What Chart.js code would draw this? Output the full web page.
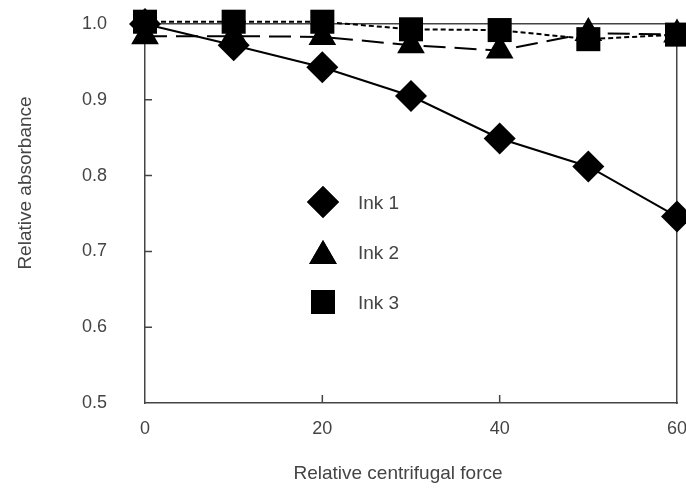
<!DOCTYPE html>
<html><head><meta charset="utf-8">
<script src="https://cdn.jsdelivr.net/npm/chart.js@4/dist/chart.umd.min.js"></script>
<style>html,body{margin:0;padding:0;background:#fff;}#wrap{width:686px;height:489px;}</style>
</head><body><div id="wrap"><canvas id="c" width="686" height="489"></canvas></div>
<script>
const forces = [0, 10, 20, 30, 40, 50, 60];
const ink1 = [1.0, 0.972, 0.943, 0.905, 0.849, 0.812, 0.746];
const ink2 = [0.984, 0.984, 0.983, 0.972, 0.965, 0.988, 0.986];
const ink3 = [1.003, 1.003, 1.003, 0.993, 0.992, 0.98, 0.986];
const seriesNames = ['Ink 1', 'Ink 2', 'Ink 3'];
const xTicks = [0, 20, 40, 60];
const yTicks = [0.5, 0.6, 0.7, 0.8, 0.9, 1.0];
const xMinorTicks = [20, 40];
const yInnerTicks = [0.6, 0.7, 0.8, 0.9];

const FONT = 'Liberation Sans, Arial, sans-serif';
const styles = [
  {pointStyle: 'rectRot', radius: 16, dash: [], order: 2},
  {pointStyle: 'triangle', radius: 16, dash: [22, 9], order: 1},
  {pointStyle: 'rect', radius: 17, dash: [5, 3], order: 0}
];
const allData = [ink1, ink2, ink3];
const datasets = allData.map((vals, i) => ({
  label: seriesNames[i],
  data: vals.map((v, k) => ({x: forces[k], y: v})),
  order: styles[i].order,
  borderColor: '#000',
  backgroundColor: '#000',
  borderWidth: 2,
  borderDash: styles[i].dash,
  pointStyle: styles[i].pointStyle,
  pointRadius: styles[i].radius,
  pointHoverRadius: styles[i].radius,
  pointBorderWidth: 0,
  pointBackgroundColor: '#000',
  tension: 0,
  clip: false
}));

function noPadX(s, h) { s.height = h; s.paddingLeft = 0; s.paddingRight = 0; }
function noPadY(s, w) { s.width = w; s.paddingTop = 0; s.paddingBottom = 0; }

const decor = {
  id: 'decor',
  afterDraw(chart) {
    const ctx = chart.ctx, xs = chart.scales.x, ys = chart.scales.y, a = chart.chartArea;
    ctx.save();
    ctx.strokeStyle = '#444';
    ctx.lineWidth = 1.5;
    ctx.beginPath();
    xMinorTicks.forEach(v => { const px = xs.getPixelForValue(v); ctx.moveTo(px, a.bottom); ctx.lineTo(px, a.bottom - 8); });
    yInnerTicks.forEach(v => { const py = ys.getPixelForValue(v); ctx.moveTo(a.left, py); ctx.lineTo(a.left + 7, py); });
    ctx.stroke();
    // legend
    const lx = 323, ly0 = 202;
    ctx.font = '19px ' + FONT;
    ctx.textBaseline = 'middle';
    seriesNames.forEach((name, i) => {
      const y = ly0 + i * 50;
      ctx.fillStyle = '#000';
      Chart.helpers.drawPoint(ctx, {pointStyle: styles[i].pointStyle, radius: styles[i].radius, rotation: 0, borderWidth: 0}, lx, y + (i === 1 ? 4 : 0));
      ctx.fill();
      ctx.fillStyle = '#444';
      ctx.fillText(name, 358, y + 2);
    });
    // axis titles
    ctx.fillStyle = '#444';
    ctx.font = '19px ' + FONT;
    ctx.textAlign = 'center';
    ctx.fillText('Relative centrifugal force', 398, 474);
    ctx.translate(26, 183);
    ctx.rotate(-Math.PI / 2);
    ctx.fillText('Relative absorbance', 0, 0);
    ctx.restore();
  }
};

new Chart(document.getElementById('c'), {
  type: 'line',
  data: {datasets},
  options: {
    responsive: false,
    animation: false,
    layout: {autoPadding: false, padding: {top: 24, right: 9, left: 0, bottom: 0}},
    plugins: {legend: {display: false}, tooltip: {enabled: false}},
    scales: {
      x: {
        type: 'linear', min: 0, max: 60,
        afterBuildTicks: s => { s.ticks = xTicks.map(v => ({value: v})); },
        afterFit: s => noPadX(s, 86),
        grid: {display: false, drawTicks: false},
        border: {display: true, color: '#444', width: 1.5},
        ticks: {color: '#444', font: {family: FONT, size: 18}, padding: 15, maxRotation: 0}
      },
      y: {
        type: 'linear', min: 0.5, max: 1.0,
        afterBuildTicks: s => { s.ticks = yTicks.map(v => ({value: v})); },
        afterFit: s => noPadY(s, 145),
        grid: {display: false, drawTicks: false},
        border: {display: true, color: '#444', width: 1.5},
        ticks: {color: '#444', font: {family: FONT, size: 18}, padding: 38, callback: v => v.toFixed(1)}
      },
      x2: {
        type: 'linear', position: 'top', min: 0, max: 60, display: true,
        afterFit: s => noPadX(s, 0),
        grid: {display: false, drawTicks: false},
        border: {display: true, color: '#444', width: 1.5},
        ticks: {display: false}
      },
      y2: {
        type: 'linear', position: 'right', min: 0.5, max: 1.0, display: true,
        afterFit: s => noPadY(s, 0),
        grid: {display: false, drawTicks: false},
        border: {display: true, color: '#444', width: 1.5},
        ticks: {display: false}
      }
    }
  },
  plugins: [decor]
});
</script></body></html>
